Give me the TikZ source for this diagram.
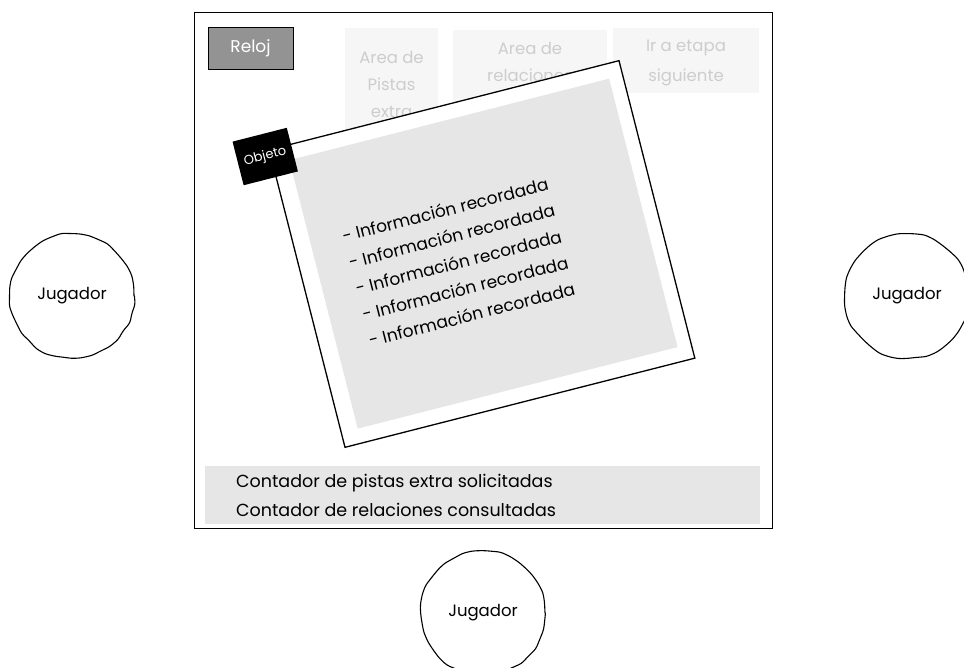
\documentclass[tikz,border=0pt]{standalone}
\usepackage{fontspec}
\setmainfont{Poppins}
\usetikzlibrary{decorations.pathmorphing}
\definecolor{panelgray}{HTML}{E6E6E6}
\definecolor{faintfill}{HTML}{F6F6F6}
\definecolor{fainttext}{HTML}{CDCDCD}
\definecolor{clockgray}{HTML}{939393}
\begin{document}
\begin{tikzpicture}[x=1pt,y=-1pt,
  player/.style={circle, draw, line width=1.1pt, minimum size=124pt, inner sep=0pt,
    font=\fontsize{16.5}{18}\selectfont,
    decorate, decoration={random steps, segment length=10pt, amplitude=1pt},
    rounded corners=3pt},
  faintbox/.style={fill=faintfill, inner sep=0pt, anchor=north west},
  fainttxt/.style={text=fainttext, align=center, font=\fontsize{16.5}{27}\selectfont},
  infoline/.style={anchor=west, inner sep=0pt, transform shape, font=\fontsize{17}{19}\selectfont},
  countline/.style={anchor=west, inner sep=0pt, font=\fontsize{17.5}{19}\selectfont}
]
\pgfmathsetseed{7}
\useasboundingbox (0,0) rectangle (964,668);

% main screen frame
\node[draw, line width=1.3pt, minimum width=578pt, minimum height=516pt, inner sep=0pt,
  anchor=north west] (screen) at (194,12) {};

% clock
\node[fill=clockgray, draw, line width=0.8pt, minimum width=85pt, minimum height=42pt,
  text=white, font=\fontsize{17}{19}\selectfont] (reloj) at (250.5,48) {Reloj};

% faint top areas
\node[faintbox, minimum width=93pt, minimum height=122pt] (pistas) at (345,28) {};
\node[fainttxt] (pistasT) at (391.5,84) {Area de\\Pistas\\extra};
\node[faintbox, minimum width=154pt, minimum height=80pt] (relac) at (453,30) {};
\node[fainttxt] (relacT) at (530,61.5) {Area de\\relaciones};
\node[faintbox, minimum width=146pt, minimum height=65pt] (etapa) at (613,28) {};
\node[fainttxt, font=\fontsize{16.5}{30}\selectfont] (etapaT) at (686,63) {Ir a etapa\\siguiente};

% rotated card with recalled information
\begin{scope}[shift={(482,254)}, rotate=14.3]
  \node[draw, fill=white, line width=1.3pt, minimum width=361pt, minimum height=307pt,
    inner sep=0pt, transform shape] (card) at (0,0) {};
  \node[fill=panelgray, minimum width=330pt, minimum height=277pt, inner sep=0pt,
    transform shape] (panel) at (1.5,0) {};
  \node[fill=black, text=white, minimum width=56pt, minimum height=45pt, inner sep=0pt,
    transform shape, font=\fontsize{13}{15}\selectfont] (objeto) at (-186,-148) {Objeto};
  \node[infoline] (info1) at (-131,-52) {- Información recordada};
  \node[infoline] (info2) at (-131,-25) {- Información recordada};
  \node[infoline] (info3) at (-131,2) {- Información recordada};
  \node[infoline] (info4) at (-131,29) {- Información recordada};
  \node[infoline] (info5) at (-131,56) {- Información recordada};
\end{scope}

% counters bar
\node[fill=panelgray, minimum width=555pt, minimum height=58pt, inner sep=0pt] (bar) at (482.5,495) {};
\node[countline] (count1) at (236,483) {Contador de pistas extra solicitadas};
\node[countline] (count2) at (236,510) {Contador de relaciones consultadas};

% players
\node[player] (jugL) at (72,296) {Jugador};
\node[player] (jugR) at (907,296) {Jugador};
\node[player] (jugB) at (483,613) {Jugador};
\end{tikzpicture}
\end{document}
